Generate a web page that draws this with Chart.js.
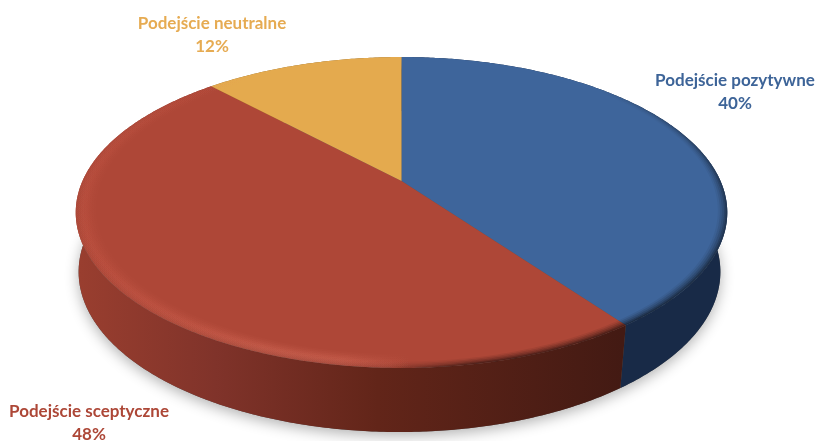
<!DOCTYPE html>
<html lang="pl">
<head>
<meta charset="utf-8">
<title>Podejście</title>
<style>html,body{margin:0;padding:0;background:#fff}canvas{display:block}</style>
<script src="https://cdn.jsdelivr.net/npm/chart.js@4/dist/chart.umd.min.js"></script>
</head>
<body>
<canvas id="c" width="817" height="441"></canvas>
<script>
const categories = ['Podejście pozytywne', 'Podejście sceptyczne', 'Podejście neutralne'];
const shares = [40, 48, 12];
const faceColors = ['#3e659b', '#ae4737', '#e4aa4e'];
const labelColors = ['#3d6498', '#ad4737', '#e6ab52'];

// perspective view of the pie disc
const view = {cx: 401.5, cy: 181, a: 319, b: 149.1, k: -0.2026, depth: 58.4, shiftX: -2, shrinkX: 0.985, growY: 1.03};
function project(angle, r, low) {
  const u = Math.cos(angle) * r, v = Math.sin(angle) * r, w = 1 + view.k * v;
  return [
    view.cx + (low ? view.shiftX : 0) + (low ? view.shrinkX : 1) * view.a * u / w,
    view.cy + (low ? view.depth : 0) + (low ? view.growY : 1) * view.b * v / w
  ];
}
function trace(ctx, a0, a1, r, low, first) {
  const n = Math.max(2, Math.ceil(Math.abs(a1 - a0) / 0.01));
  for (let i = 0; i <= n; i++) {
    const p = project(a0 + (a1 - a0) * i / n, r, low);
    if (i === 0 && first) ctx.moveTo(p[0], p[1]); else ctx.lineTo(p[0], p[1]);
  }
}
function wallStyle(ctx, index) {
  if (index === 0) return '#182a47';
  if (index === 2) return '#8a6426';
  const g = ctx.createLinearGradient(80, 0, 622, 0);
  g.addColorStop(0, '#993e2f');
  g.addColorStop(0.25, '#80332a');
  g.addColorStop(0.55, '#622519');
  g.addColorStop(1, '#431a13');
  return g;
}
function ring(ctx, style, bands) {
  ctx.fillStyle = style;
  bands.forEach(([r, alpha]) => {
    ctx.globalAlpha = alpha;
    ctx.beginPath();
    trace(ctx, 0, Math.PI * 2, 1, false, true);
    ctx.closePath();
    trace(ctx, Math.PI * 2, 0, r, false, true);
    ctx.closePath();
    ctx.fill();
  });
  ctx.globalAlpha = 1;
}
const pie3d = {
  id: 'pie3d',
  beforeDatasetsDraw(chart) {
    const ctx = chart.ctx, arcs = chart.getDatasetMeta(0).data;
    ctx.save();
    // soft ground shadow
    ctx.save();
    ctx.shadowColor = 'rgba(0,0,0,0.3)';
    ctx.shadowBlur = 14;
    ctx.shadowOffsetY = 4;
    ctx.fillStyle = '#555';
    ctx.beginPath();
    trace(ctx, 0, Math.PI * 2, 1, true, true);
    ctx.closePath();
    ctx.fill();
    ctx.restore();
    // side walls
    [2, 0, 1].forEach(i => {
      const s = arcs[i].startAngle, e = arcs[i].endAngle;
      ctx.fillStyle = wallStyle(ctx, i);
      ctx.beginPath();
      trace(ctx, s, e, 1, false, true);
      trace(ctx, e, s, 1, true, false);
      ctx.closePath();
      ctx.fill();
    });
    // top faces
    arcs.forEach((arc, i) => {
      ctx.fillStyle = faceColors[i];
      ctx.beginPath();
      ctx.moveTo(view.cx, view.cy);
      trace(ctx, arc.startAngle, arc.endAngle, 1, false, false);
      ctx.closePath();
      ctx.fill();
    });
    // bevelled rim: light on the front left, dark on the front right
    const light = ctx.createConicGradient(0, view.cx, view.cy);
    light.addColorStop(0, 'rgba(255,140,120,0)');
    light.addColorStop(0.24, 'rgba(255,140,120,0)');
    light.addColorStop(0.30, 'rgba(255,140,120,0.55)');
    light.addColorStop(0.36, 'rgba(255,140,120,0.55)');
    light.addColorStop(0.46, 'rgba(255,120,100,0.3)');
    light.addColorStop(0.53, 'rgba(255,120,100,0.2)');
    light.addColorStop(0.6, 'rgba(255,120,100,0)');
    light.addColorStop(1, 'rgba(255,140,120,0)');
    ring(ctx, light, [[0.94, 0.05], [0.947, 0.07], [0.954, 0.09], [0.961, 0.11], [0.968, 0.12], [0.975, 0.1]]);
    const shade = ctx.createConicGradient(0, view.cx, view.cy);
    shade.addColorStop(0, 'rgba(0,0,0,0.5)');
    shade.addColorStop(0.08, 'rgba(0,0,0,0.7)');
    shade.addColorStop(0.19, 'rgba(0,0,0,0.65)');
    shade.addColorStop(0.26, 'rgba(0,0,0,0.12)');
    shade.addColorStop(0.32, 'rgba(0,0,0,0.12)');
    shade.addColorStop(0.5, 'rgba(0,0,0,0.05)');
    shade.addColorStop(0.6, 'rgba(0,0,0,0)');
    shade.addColorStop(0.93, 'rgba(0,0,0,0)');
    shade.addColorStop(1, 'rgba(0,0,0,0.5)');
    ring(ctx, shade, [[0.972, 0.1], [0.978, 0.16], [0.984, 0.2], [0.99, 0.28], [0.995, 0.32]]);
    ctx.restore();
    return false;
  },
  afterDraw(chart) {
    const ctx = chart.ctx, places = chart.options.plugins.pie3d.places;
    ctx.save();
    ctx.font = 'bold 17px Lato, Carlito, sans-serif';
    ctx.textAlign = 'center';
    ctx.textBaseline = 'middle';
    chart.data.labels.forEach((name, i) => {
      ctx.fillStyle = labelColors[i];
      ctx.fillText(name, places[i][0], places[i][1]);
      ctx.fillText(chart.data.datasets[0].data[i] + '%', places[i][0], places[i][1] + 23);
    });
    ctx.restore();
  }
};
new Chart(document.getElementById('c'), {
  type: 'pie',
  data: {labels: categories, datasets: [{data: shares, backgroundColor: faceColors, borderWidth: 0}]},
  options: {
    responsive: false,
    animation: false,
    events: [],
    plugins: {
      legend: {display: false},
      tooltip: {enabled: false},
      pie3d: {places: [[735, 81], [89, 412], [212, 24]]}
    }
  },
  plugins: [pie3d]
});
</script>
</body>
</html>
